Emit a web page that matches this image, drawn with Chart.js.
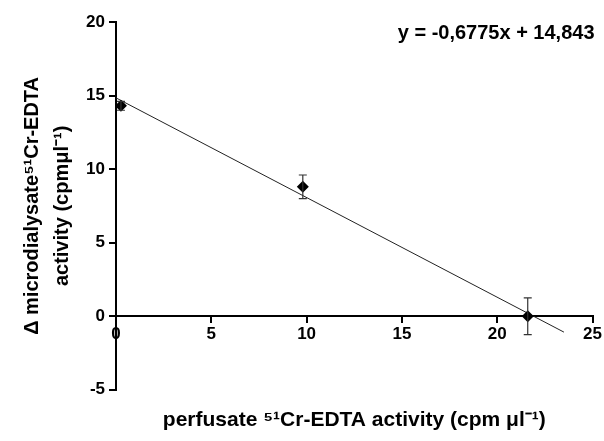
<!DOCTYPE html>
<html>
<head>
<meta charset="utf-8">
<script src="https://cdn.jsdelivr.net/npm/chart.js@4.4.0/dist/chart.umd.min.js"></script>
<style>
  html, body { margin: 0; padding: 0; background: #fff; }
  #wrap { width: 604px; height: 441px; }
</style>
</head>
<body>
<div id="wrap"><canvas id="chart" width="604" height="441"></canvas></div>
<script>
// measured points (perfusate activity vs change in microdialysate activity)
var perfusate = [0.26, 9.8, 21.6];
var deltaDialysate = [14.3, 8.8, 0.0];
var errors = [0.3, 0.8, 1.25];

// regression line endpoints as drawn
var trendX = [0, 23.5];
var trendY = [14.843, -1.08];
var equationText = "y = -0,6775x + 14,843";

var xTicks = [0, 5, 10, 15, 20, 25];
var yTicks = [-5, 0, 5, 10, 15, 20];

var fontFamily = "'Liberation Sans', Arial, sans-serif";

var points = [];
for (var i = 0; i < perfusate.length; i++) {
  points.push({ x: perfusate[i], y: deltaDialysate[i] });
}
var trend = [];
for (var j = 0; j < trendX.length; j++) {
  trend.push({ x: trendX[j], y: trendY[j] });
}

// error bars + equation label
var extras = {
  id: "extras",
  afterDatasetsDraw: function(chart) {
    var ctx = chart.ctx;
    var xs = chart.scales.x, ys = chart.scales.y;
    ctx.save();
    ctx.strokeStyle = "#333";
    ctx.lineWidth = 1.2;
    for (var i = 0; i < perfusate.length; i++) {
      var px = xs.getPixelForValue(perfusate[i]);
      var top = ys.getPixelForValue(deltaDialysate[i] + errors[i]);
      var bot = ys.getPixelForValue(deltaDialysate[i] - errors[i]);
      ctx.beginPath();
      ctx.moveTo(px, top); ctx.lineTo(px, bot);
      ctx.moveTo(px - 4, top); ctx.lineTo(px + 4, top);
      ctx.moveTo(px - 4, bot); ctx.lineTo(px + 4, bot);
      ctx.stroke();
    }
    ctx.fillStyle = "#000";
    ctx.font = "bold 20px " + fontFamily;
    ctx.textAlign = "right";
    ctx.textBaseline = "middle";
    ctx.fillText(equationText, chart.chartArea.right + 2, 33);
    ctx.restore();
  }
};

new Chart(document.getElementById("chart"), {
  type: "scatter",
  data: {
    datasets: [{
      label: "data",
      data: points,
      pointStyle: "rectRot",
      pointRadius: 6,
      pointHoverRadius: 6,
      backgroundColor: "#000",
      borderColor: "#000",
      borderWidth: 0
    }, {
      label: "trend",
      type: "line",
      data: trend,
      showLine: true,
      pointRadius: 0,
      borderColor: "#222",
      borderWidth: 1,
      fill: false
    }]
  },
  options: {
    responsive: false,
    animation: false,
    events: [],
    layout: { padding: { top: 22, right: 11, bottom: 8, left: 0 } },
    plugins: {
      legend: { display: false },
      tooltip: { enabled: false },
      title: {
        display: true,
        position: "bottom",
        fullSize: false,
        text: "perfusate \u2075\u00b9Cr-EDTA activity (cpm \u03bcl\u207b\u00b9)",
        color: "#000",
        font: { family: fontFamily, size: 21, weight: "bold" },
        padding: { top: 18, bottom: 0 }
      }
    },
    scales: {
      x: {
        type: "linear",
        position: { y: 0 },
        min: 0,
        max: 25,
        afterBuildTicks: function(s) { s.ticks = xTicks.map(function(v) { return { value: v }; }); },
        border: { display: true, color: "#000", width: 2 },
        grid: { display: true, drawOnChartArea: false, drawTicks: true, tickLength: 6, color: "#000", lineWidth: 2 },
        ticks: { color: "#000", padding: 2, font: { family: fontFamily, size: 17, weight: "bold" }, maxRotation: 0 }
      },
      y: {
        type: "linear",
        position: "left",
        min: -5,
        max: 20,
        afterBuildTicks: function(s) { s.ticks = yTicks.map(function(v) { return { value: v }; }); },
        afterFit: function(s) { s.width = 116; },
        border: { display: true, color: "#000", width: 2 },
        grid: { display: true, drawOnChartArea: false, drawTicks: true, tickLength: 7, color: "#000", lineWidth: 2 },
        ticks: { color: "#000", padding: 4, font: { family: fontFamily, size: 17, weight: "bold" } },
        title: {
          display: true,
          text: ["\u0394 microdialysate\u2075\u00b9Cr-EDTA", "activity (cpm\u03bcl\u207b\u00b9)"],
          color: "#000",
          font: { family: fontFamily, size: 20, weight: "bold", lineHeight: 1.5 },
          padding: { top: 17, bottom: 0 }
        }
      }
    }
  },
  plugins: [extras]
});
</script>
</body>
</html>
